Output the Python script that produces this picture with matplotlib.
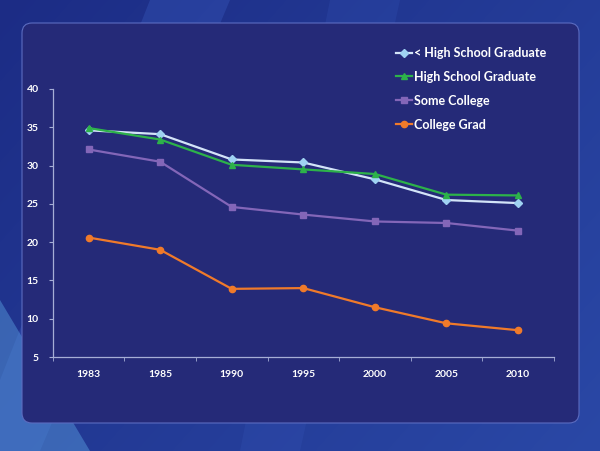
import numpy as np
import matplotlib
matplotlib.use("Agg")
import matplotlib.pyplot as plt
from matplotlib.patches import FancyBboxPatch, Polygon

years = ["1983", "1985", "1990", "1995", "2000", "2005", "2010"]
less_hs = [34.6, 34.1, 30.8, 30.4, 28.2, 25.5, 25.1]
hs_grad = [34.9, 33.4, 30.1, 29.5, 28.9, 26.2, 26.1]
some_college = [32.1, 30.5, 24.6, 23.6, 22.7, 22.5, 21.5]
college_grad = [20.6, 19.0, 13.9, 14.0, 11.5, 9.4, 8.5]

series = [
    ("< High School Graduate", less_hs, "#d3e4f8", "D", "#9fd2f2"),
    ("High School Graduate", hs_grad, "#2db24a", "^", "#2db24a"),
    ("Some College", some_college, "#8366b8", "s", "#8366b8"),
    ("College Grad", college_grad, "#f07a2a", "o", "#f07a2a"),
]

plt.rcParams['font.family'] = ['Lato', 'DejaVu Sans']
fig = plt.figure(figsize=(6.0, 4.51), dpi=100)

# background
bg = fig.add_axes([0, 0, 1, 1])
bg.set_xlim(0, 600)
bg.set_ylim(451, 0)
bg.axis("off")
yy, xx = np.mgrid[0:451, 0:600]
grad = (xx / 600.0) * 0.6 + (yy / 451.0) * 0.4
c0 = np.array([0x1c, 0x2c, 0x85]) / 255.0
c1 = np.array([0x2a, 0x48, 0xa6]) / 255.0
img = c0[None, None, :] * (1 - grad[..., None]) + c1[None, None, :] * grad[..., None]
bg.imshow(img, extent=(0, 600, 451, 0), aspect="auto", zorder=0)
bg.add_patch(Polygon([[150, 0], [230, 0], [40, 451], [0, 451], [0, 380]], closed=True,
                     facecolor="#3a5cc0", alpha=0.35, edgecolor="none", zorder=1))
bg.add_patch(Polygon([[0, 300], [0, 451], [90, 451]], closed=True,
                     facecolor="#5aa0e0", alpha=0.45, edgecolor="none", zorder=1))
bg.add_patch(Polygon([[330, 0], [400, 0], [300, 451], [240, 451]], closed=True,
                     facecolor="#3a5cc0", alpha=0.2, edgecolor="none", zorder=1))
panel = FancyBboxPatch((22, 23), 557, 400, boxstyle="round,pad=0,rounding_size=10",
                       facecolor="#252a78", edgecolor="#5b6cc0", linewidth=0.8, zorder=2)
bg.add_patch(panel)

ax = fig.add_axes([0.088, 0.2084, 0.835, 0.5943])
ax.patch.set_alpha(0)
x = np.arange(len(years))
for name, vals, lc, mk, mc in series:
    ax.plot(x, vals, color=lc, marker=mk, markerfacecolor=mc, markeredgecolor=mc,
            markersize=4.5 if mk != "D" else 4.0, linewidth=1.6, label=name)

ax.set_xlim(-0.5, len(years) - 0.5)
ax.set_ylim(5, 40)
ax.set_yticks([5, 10, 15, 20, 25, 30, 35, 40])
ax.set_xticks(x)
ax.set_xticklabels(years)
ax.set_xticks(np.arange(-0.5, len(years), 1.0), minor=True)
ax.tick_params(axis="x", which="major", length=0, pad=9)
ax.tick_params(axis="x", which="minor", length=3, color="#a6aed6", direction="out")
ax.tick_params(axis="y", length=3, color="#a6aed6", pad=7)
for lab in ax.get_xticklabels() + ax.get_yticklabels():
    lab.set_color("white")
    lab.set_fontsize(7.5)
    lab.set_fontweight("bold")
for s in ["top", "right"]:
    ax.spines[s].set_visible(False)
for s in ["left", "bottom"]:
    ax.spines[s].set_color("#a6aed6")
    ax.spines[s].set_linewidth(0.9)

leg = ax.legend(loc="upper left", bbox_to_anchor=(0.685, 1.157), frameon=False,
                handlelength=1.3, handletextpad=0.15, labelspacing=0.95,
                prop={"size": 9, "weight": "bold"}, borderaxespad=0, borderpad=0)
for t in leg.get_texts():
    t.set_color("white")

fig.savefig("out.png", dpi=100)
